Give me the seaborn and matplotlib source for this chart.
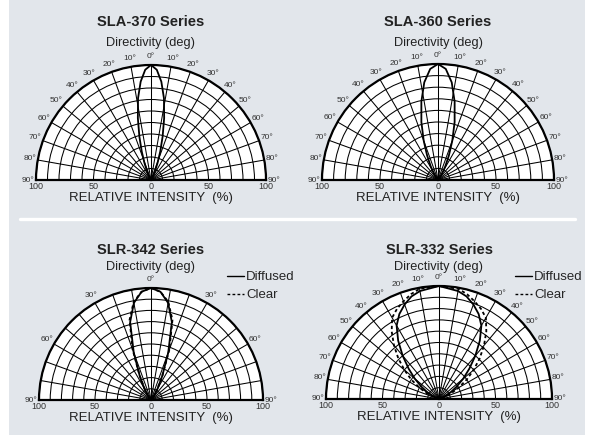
import numpy as np
import pandas as pd
import matplotlib
matplotlib.use("Agg")
import matplotlib.pyplot as plt
from matplotlib.patches import Rectangle
from matplotlib.lines import Line2D
import seaborn as sns

# Dados (ângulo em graus, intensidade relativa em %)
sla370_ang = [0, 3, 6, 9, 12, 15, 18, 21, 24, 27, 30, 35, 40, 45]
sla370_int = [100, 96, 86, 72, 55, 39, 26, 16, 9, 5, 2.4, 0.6, 0.2, 0]

sla360_ang = [0, 4, 8, 12, 16, 20, 24, 28, 32, 36, 40, 45, 50, 60]
sla360_int = [100, 96, 85, 69, 52, 36, 23, 13.5, 7, 3.7, 1.7, 0.5, 0.2, 0]

slr342_ang = [0, 5, 10, 15, 20, 25, 30, 35, 40, 45, 50, 60]
slr342_dif = [100, 97, 88, 72, 45, 24, 12, 5.5, 2.5, 1, 0.3, 0]
slr342_clr = [100, 97, 89, 74, 48, 24, 11, 5, 2, 0.8, 0.2, 0]

slr332_ang = [0, 10, 15, 20, 25, 30, 35, 40, 45, 50, 55, 60, 65, 70, 80]
slr332_dif = [100, 97, 94, 89, 83, 75, 63, 50, 38, 28, 19, 12, 6, 2.5, 0]
slr332_clr = [100, 99, 96, 92, 88, 83, 73, 62, 51, 40, 30, 20, 12, 5, 0]

titulos = ["SLA-370 Series", "SLA-360 Series", "SLR-342 Series", "SLR-332 Series"]
rotulos_r = ["100", "50", "0", "50", "100"]

W, H = 592, 438
BG = "#e2e6eb"

sns.set_style("white")
plt.rcParams["font.family"] = ["Liberation Sans", "DejaVu Sans"]


def espelhar(ang, val):
    """Monta a curva simétrica (-90..90) a partir de um lado."""
    ang = np.asarray(ang, float)
    val = np.asarray(val, float)
    th = np.concatenate([-ang[::-1], ang[1:]])
    r = np.concatenate([val[::-1], val[1:]])
    return np.deg2rad(th), r


def montar_df(ang, series):
    partes = []
    for nome, val in series.items():
        th, r = espelhar(ang, val)
        partes.append(pd.DataFrame({"theta": th, "r": r, "tipo": nome}))
    return pd.concat(partes, ignore_index=True)


def eixo_polar(fig, cx, base, R, passo_rotulo):
    """Cria um semicírculo polar com centro (cx, base) em pixels."""
    # caixa quadrada: o semicírculo fica centrado verticalmente nela
    cy = base - R / 2
    rect = [(cx - R) / W, 1 - (cy + R) / H, 2 * R / W, 2 * R / H]
    ax = fig.add_axes(rect, projection="polar")
    ax.set_thetamin(-90)
    ax.set_thetamax(90)
    ax.set_theta_zero_location("N")
    ax.set_theta_direction(-1)
    ax.set_rlim(0, 100)
    ax.set_facecolor("white")
    graus = list(range(-90, 91, 10))
    labels = [f"{abs(g)}°" if g % passo_rotulo == 0 else "" for g in graus]
    ax.set_xticks(np.deg2rad(graus))
    ax.set_xticklabels(labels, fontsize=6, color="#333333")
    ax.tick_params(axis="x", pad=-4.5)
    ax.set_rgrids(range(10, 101, 10), labels=[""] * 10)
    ax.grid(True, color="black", linewidth=0.75)
    for s in ax.spines.values():
        s.set_color("black")
        s.set_linewidth(1.6)
    # rótulos de intensidade abaixo da base
    pos = [(-90, 100), (-90, 50), (0, 0), (90, 50), (90, 100)]
    for (a, rr), txt in zip(pos, rotulos_r):
        ax.annotate(txt, xy=(np.deg2rad(a), rr), xytext=(0, -1.5),
                    textcoords="offset points", ha="center", va="top",
                    fontsize=6.5, color="#333333", annotation_clip=False)
    return ax


fig = plt.figure(figsize=(W / 100, H / 100), dpi=100)
fig.patch.set_facecolor("white")
fig.patches.append(Rectangle((9 / W, 3 / H), (585 - 9) / W, 435 / H,
                             transform=fig.transFigure, facecolor=BG,
                             edgecolor="none", zorder=-2))
fig.lines.append(Line2D([20 / W, 575 / W], [1 - 219 / H] * 2,
                        transform=fig.transFigure, color="white", lw=2.4,
                        zorder=-1))

paineis = [
    dict(cx=151, base=180, R=115, ty=22, dy=43, passo=10,
         ang=sla370_ang, series={"Diffused": sla370_int}),
    dict(cx=438, base=180, R=116, ty=22, dy=43, passo=10,
         ang=sla360_ang, series={"Diffused": sla360_int}),
    dict(cx=151, base=400, R=112, ty=250, dy=267, passo=30,
         ang=slr342_ang, series={"Diffused": slr342_dif, "Clear": slr342_clr}),
    dict(cx=439, base=399, R=113, ty=250, dy=267, passo=10,
         ang=slr332_ang, series={"Diffused": slr332_dif, "Clear": slr332_clr}),
]

estilos = {"Diffused": "", "Clear": (1.8, 1.5)}

for p, titulo in zip(paineis, titulos):
    ax = eixo_polar(fig, p["cx"], p["base"], p["R"], p["passo"])
    df = montar_df(p["ang"], p["series"])
    sns.lineplot(data=df, x="theta", y="r", style="tipo", dashes=estilos,
                 units="tipo", estimator=None, sort=False, color="black",
                 linewidth=1.3, ax=ax, legend=False)
    ax.set_xlabel("")
    ax.set_ylabel("")
    ax.set_rlim(0, 100)

    fig.text(p["cx"] / W, 1 - p["ty"] / H, titulo, ha="center", va="center",
             fontsize=10.5, fontweight="bold", color="#222222")
    fig.text(p["cx"] / W, 1 - p["dy"] / H, "Directivity (deg)", ha="center",
             va="center", fontsize=9.2, color="#222222")
    fig.text(p["cx"] / W, 1 - (p["base"] + 18) / H, "RELATIVE INTENSITY  (%)",
             ha="center", va="center", fontsize=9.5, color="#222222")

    if len(p["series"]) > 1:
        hs = [Line2D([], [], color="black", lw=1.0),
              Line2D([], [], color="black", lw=1.0, dashes=(2, 1.6))]
        x0 = (p["cx"] + 76) / W
        fig.legend(hs, ["Diffused", "Clear"], loc="upper left",
                   bbox_to_anchor=(x0, 1 - 271 / H), frameon=False,
                   fontsize=9.5, handlelength=1.3, handletextpad=0.15,
                   labelspacing=0.45, borderaxespad=0, borderpad=0)

fig.savefig("out.png", dpi=100, facecolor="white")
